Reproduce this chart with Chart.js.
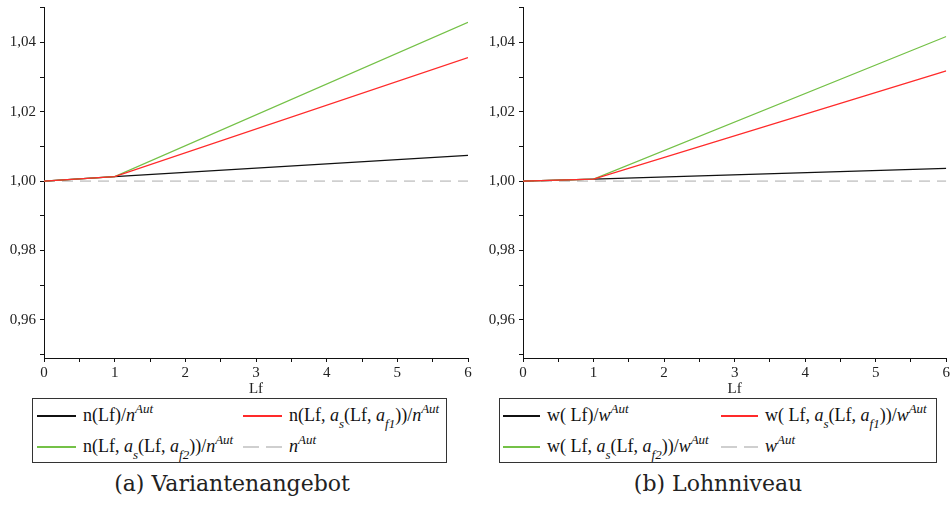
<!DOCTYPE html>
<html>
<head>
<meta charset="utf-8">
<script src="https://cdn.jsdelivr.net/npm/chart.js@4.4.1/dist/chart.umd.min.js"></script>
<style>
  body { margin: 0; width: 952px; height: 508px; background: #fff; position: relative; overflow: hidden; font-family: "Liberation Serif", "Times New Roman", Times, serif; }
  .panel { position: absolute; top: 0; width: 476px; height: 508px; }
  .panel canvas { position: absolute; left: 0; top: 0; }
  .legend { position: absolute; top: 398px; height: 65px; border: 1px solid #333; box-sizing: border-box; font-size: 18px; color: #111; }
  .item { position: absolute; white-space: nowrap; line-height: 20px; height: 20px; }
  .swatch { display: inline-block; width: 39px; height: 1.6px; vertical-align: middle; margin-right: 7px; position: relative; top: -1px; }
  .sup, .sub { position: relative; font-size: 13px; font-style: italic; }
  .sup { top: -0.6em; }
  .sub { top: 0.5em; }
  .caption { position: absolute; top: 470px; left: 0; text-align: center; font-family: "DejaVu Serif", serif; font-size: 22px; color: #222; line-height: 28px; }
</style>
</head>
<body>
<div class="panel" style="left:0">
  <canvas id="chartA" width="476" height="398"></canvas>
  <div class="legend" id="legendA" style="left:32px;width:415px"></div>
  <div class="caption" style="width:464px">(a) Variantenangebot</div>
</div>
<div class="panel" style="left:476px">
  <canvas id="chartB" width="476" height="398"></canvas>
  <div class="legend" id="legendB" style="left:23px;width:438px"></div>
  <div class="caption" style="width:484px">(b) Lohnniveau</div>
</div>
<script>
// Lf values where the curves were read
const lf = [0, 1, 6];
const lfRef = [0, 6];

// (a) Variantenangebot
const nBase = [1.0000, 1.0013, 1.0074];
const nAf1 = [1.0000, 1.0013, 1.0356];
const nAf2 = [1.0000, 1.0013, 1.0458];
const nAut = [1.0, 1.0];

// (b) Lohnniveau
const wBase = [1.0000, 1.0006, 1.0037];
const wAf1 = [1.0000, 1.0006, 1.0318];
const wAf2 = [1.0000, 1.0006, 1.0417];
const wAut = [1.0, 1.0];

const it = s => '<i>' + s + '</i>';
const sup = s => '<span class="sup">' + s + '</span>';
const sub = s => '<span class="sub">' + s + '</span>';

const labelsA = [
  'n(Lf)/' + it('n') + sup('Aut'),
  'n(Lf, ' + it('a') + sub('s') + '(Lf, ' + it('a') + sub('f1') + '))/' + it('n') + sup('Aut'),
  'n(Lf, ' + it('a') + sub('s') + '(Lf, ' + it('a') + sub('f2') + '))/' + it('n') + sup('Aut'),
  it('n') + sup('Aut')
];
const labelsB = [
  'w( Lf)/' + it('w') + sup('Aut'),
  'w( Lf, ' + it('a') + sub('s') + '(Lf, ' + it('a') + sub('f1') + '))/' + it('w') + sup('Aut'),
  'w( Lf, ' + it('a') + sub('s') + '(Lf, ' + it('a') + sub('f2') + '))/' + it('w') + sup('Aut'),
  it('w') + sup('Aut')
];

const colors = ['#111111', '#ff2a2a', '#74c147', '#cfcfcf'];
const yTicks = { min: 0.949, max: 1.0502, step: 0.01 };

const pts = (xs, ys) => xs.map((x, i) => ({ x, y: ys[i] }));

function makeDatasets(labels, base, af1, af2, aut){
  const series = [pts(lf, base), pts(lf, af1), pts(lf, af2), pts(lfRef, aut)];
  const order = [2, 0, 1, 3];
  return series.map((data, i) => ({
    label: labels[i],
    data,
    borderColor: colors[i],
    borderWidth: i === 3 ? 1.6 : 1.2,
    borderDash: i === 3 ? [11, 7] : [],
    pointRadius: 0,
    tension: 0,
    order: order[i]
  }));
}

// legend as html so sub/superscripts stay real text
const htmlLegend = {
  id: 'htmlLegend',
  afterUpdate(chart, args, opts){
    const box = document.getElementById(opts.containerID);
    if(!box) return;
    box.innerHTML = '';
    chart.data.datasets.forEach((ds, i) => {
      const item = document.createElement('div');
      item.className = 'item';
      item.style.left = opts.cols[i % 2] + 'px';
      item.style.top = (i < 2 ? 6 : 37) + 'px';
      const sw = document.createElement('span');
      sw.className = 'swatch';
      sw.style.width = opts.swatch + 'px';
      if(ds.borderDash.length){
        sw.style.height = '2px';
        sw.style.background = `repeating-linear-gradient(to right, ${ds.borderColor} 0 16px, transparent 16px 23px)`;
      } else {
        sw.style.background = ds.borderColor;
      }
      item.appendChild(sw);
      const txt = document.createElement('span');
      txt.innerHTML = ds.label;
      item.appendChild(txt);
      box.appendChild(item);
    });
  }
};

function makeChart(id, legendId, datasets, yWidth, padRight, cols, swatch){
  const tickFont = { family: '"Liberation Serif", "Times New Roman", serif', size: 15 };
  return new Chart(document.getElementById(id), {
    type: 'line',
    data: { datasets },
    options: {
      responsive: false,
      animation: false,
      events: [],
      layout: { padding: { top: 7, right: padRight, left: 0, bottom: 0 } },
      plugins: {
        legend: { display: false },
        tooltip: { enabled: false },
        htmlLegend: { containerID: legendId, cols, swatch }
      },
      scales: {
        x: {
          type: 'linear',
          min: 0,
          max: 6,
          afterFit: s => { s.height = 40; },
          border: { color: '#111', width: 1 },
          grid: { drawOnChartArea: false, drawTicks: true, tickLength: 4, color: '#111' },
          ticks: {
            stepSize: 0.5,
            padding: 2,
            color: '#222',
            font: tickFont,
            maxRotation: 0,
            autoSkip: false,
            callback: v => Number.isInteger(v) ? String(v) : ''
          },
          title: { display: true, text: 'Lf', color: '#222', font: tickFont, padding: 0 }
        },
        y: {
          min: yTicks.min,
          max: yTicks.max,
          afterFit: s => { s.width = yWidth; s.paddingTop = 0; s.paddingBottom = 0; },
          border: { color: '#111', width: 1 },
          grid: { drawOnChartArea: false, drawTicks: true, tickLength: 4, color: '#111' },
          ticks: {
            stepSize: yTicks.step,
            includeBounds: false,
            autoSkip: false,
            padding: 4,
            color: '#222',
            font: tickFont,
            callback: v => Math.round(v * 100) % 2 === 0 ? v.toFixed(2).replace('.', ',') : ''
          }
        }
      }
    },
    plugins: [htmlLegend]
  });
}

makeChart('chartA', 'legendA', makeDatasets(labelsA, nBase, nAf1, nAf2, nAut), 44, 8, [4, 210], 39);
makeChart('chartB', 'legendB', makeDatasets(labelsB, wBase, wAf1, wAf2, wAut), 47, 5, [3, 221], 37);
</script>
</body>
</html>
